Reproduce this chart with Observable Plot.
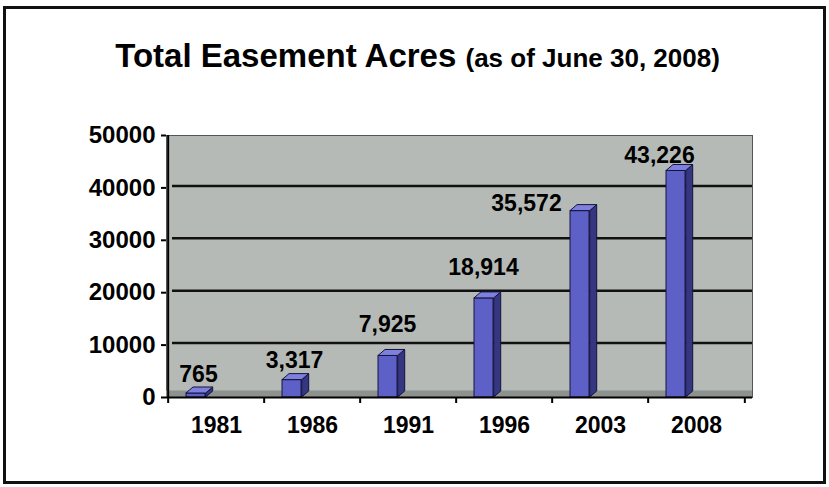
<!DOCTYPE html>
<html>
<head>
<meta charset="utf-8">
<script src="https://cdn.jsdelivr.net/npm/d3@7"></script>
<script src="https://cdn.jsdelivr.net/npm/@observablehq/plot@0.6"></script>
<style>
  html, body { margin: 0; padding: 0; background: #fff; }
  body { width: 829px; height: 487px; position: relative; overflow: hidden;
         font-family: "Liberation Sans", Arial, sans-serif; }
  #frame { position: absolute; left: 3px; top: 6px; width: 823px; height: 478px;
           box-sizing: border-box; border: 3px solid #111; }
  #title { position: absolute; left: 0; top: 40px; width: 835px; text-align: center;
           font-weight: bold; font-size: 33px; line-height: 32px; color: #000; }
  #title span { font-size: 26px; }
  #chart { position: absolute; left: 0; top: 100px; }
</style>
</head>
<body>
<div id="frame"></div>
<div id="title">Total Easement Acres <span>(as of June 30, 2008)</span></div>
<div id="chart"></div>
<script>
const years = ["1981", "1986", "1991", "1996", "2003", "2008"];
const acres = [765, 3317, 7925, 18914, 35572, 43226];
const valueLabels = ["765", "3,317", "7,925", "18,914", "35,572", "43,226"];
const yTicks = [0, 10000, 20000, 30000, 40000, 50000];

const data = years.map((y, i) => ({year: y, acres: acres[i], label: valueLabels[i]}));

const bw = 580 / years.length;
const faceLeft = 18, faceWidth = 19.7, depthX = 7, depthY = 6;
const font = {fontSize: 23, fontWeight: "bold", fill: "#000"};

function valueText(filterYears, dx, dy) {
  return Plot.text(data.filter(d => filterYears.includes(d.year)), {
    x: "year", y: "acres", text: "label", dx, dy, ...font
  });
}

// 3D side and top faces of each bar, placed with the plot's own scales
function barDepth(index, scales) {
  const g = d3.create("svg:g").attr("aria-label", "bar-depth");
  const x = scales.x, y = scales.y;
  for (const d of data) {
    const x0 = x(d.year) + faceLeft, x1 = x0 + faceWidth;
    const yt = y(d.acres), yb = y(0);
    g.append("polygon")
      .attr("points", [[x1, yt], [x1 + depthX, yt - depthY], [x1 + depthX, yb - depthY], [x1, yb]].join(" "))
      .attr("fill", "#34367f").attr("stroke", "#14143c").attr("stroke-width", 1).attr("stroke-linejoin", "round");
    g.append("polygon")
      .attr("points", [[x0, yt], [x0 + depthX, yt - depthY], [x1 + depthX, yt - depthY], [x1, yt]].join(" "))
      .attr("fill", "#7d80dc").attr("stroke", "#14143c").attr("stroke-width", 1).attr("stroke-linejoin", "round");
  }
  return g.node();
}

const plot = Plot.plot({
  width: 829,
  height: 387,
  marginLeft: 166,
  marginRight: 77,
  marginTop: 35,
  marginBottom: 90,
  style: {fontFamily: "'Liberation Sans', Arial, sans-serif", fontSize: "23px", fontWeight: "bold", color: "#000", background: "transparent", overflow: "visible"},
  x: {type: "band", domain: years, range: [166, 746], padding: 0, tickSize: 0, tickPadding: 19, label: null},
  y: {domain: [0, 50000], ticks: yTicks, tickSize: 5, tickPadding: 6, tickFormat: d => String(d), label: null},
  marks: [
    // back wall
    Plot.frame({fill: "#b6bab6", stroke: "#555", strokeWidth: 1}),
    // floor strip
    Plot.ruleY([0], {stroke: "#8e928e", strokeWidth: 7, dy: -3.5}),
    // gridlines
    Plot.ruleY(yTicks.filter(d => d > 0 && d < 50000), {stroke: "#111", strokeWidth: 2.5, insetLeft: 6, dy: -2}),
    // front faces
    Plot.barY(data, {x: "year", y: "acres", fill: "#5d60c6", stroke: "#14143c", strokeWidth: 1, insetLeft: faceLeft, insetRight: bw - faceLeft - faceWidth}),
    barDepth,
    // baseline
    Plot.ruleY([0], {stroke: "#000", strokeWidth: 2}),
    // y axis line
    Plot.ruleX([years[0]], {dx: -bw / 2, y1: 0, y2: 50000, stroke: "#000", strokeWidth: 2}),
    // x ticks at band boundaries
    Plot.ruleX(years, {dx: -bw / 2, y1: 0, y2: 0, insetBottom: -6, stroke: "#000", strokeWidth: 2}),
    Plot.ruleX([years[years.length - 1]], {dx: bw / 2, y1: 0, y2: 0, insetBottom: -6, stroke: "#000", strokeWidth: 2}),
    // value labels
    valueText(["1981", "1986"], -18, -19),
    valueText(["1991", "1996"], -21, -31),
    valueText(["2003"], -74, -7),
    valueText(["2008"], -37, -15)
  ]
});

document.getElementById("chart").appendChild(plot);

const svg = d3.select(plot);
svg.selectAll('g[aria-label="y-axis tick"] path, g[aria-label="y-axis tick"] line').attr("stroke-width", 2);
svg.selectAll('g[aria-label="y-axis tick label"] text').style("font-size", "24px");
</script>
</body>
</html>
